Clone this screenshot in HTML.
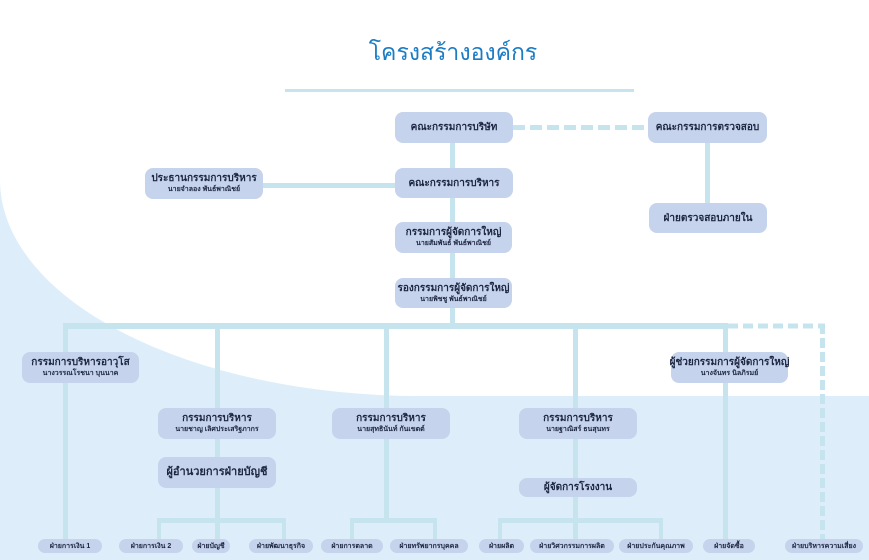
<!DOCTYPE html>
<html><head><meta charset="utf-8">
<style>
html,body{margin:0;padding:0;}
body{width:869px;height:560px;position:relative;overflow:hidden;background:#fff;font-family:"Liberation Sans","Noto Sans CJK SC",sans-serif;}
svg.bg{position:absolute;left:0;top:0;}
.t{position:absolute;left:0;top:35px;width:906px;text-align:center;font-size:23px;color:#1b7cc4;line-height:34px;}
.b{position:absolute;background:#c5d3ec;border-radius:8px;display:flex;flex-direction:column;align-items:center;justify-content:center;color:#1c2541;text-align:center;box-sizing:border-box;white-space:nowrap;}
.b .m{font-size:10px;font-weight:bold;line-height:13px;}
.b .s{font-size:7px;font-weight:bold;line-height:10px;}
.p{position:absolute;top:539px;height:14px;background:#c5d3ec;border-radius:7px;font-size:7px;font-weight:bold;color:#1c2541;display:flex;align-items:center;justify-content:center;white-space:nowrap;}
</style></head><body>
<svg class="bg" width="869" height="560" viewBox="0 0 869 560">
<path d="M0,180 A420,216 0 0 0 420,396 L869,396 L869,560 L0,560 Z" fill="#ddeefa"/>
<g fill="#c6e4ee">
<rect x="285" y="89" width="349" height="3"/>
<rect x="450" y="143" width="5" height="185"/>
<rect x="263" y="183" width="132" height="5"/>
<rect x="705" y="143" width="5" height="60"/>
<rect x="63" y="323" width="664" height="6"/>
<rect x="63" y="323" width="5" height="217"/>
<rect x="215" y="323" width="5" height="200"/>
<rect x="384" y="323" width="5" height="200"/>
<rect x="573" y="323" width="5" height="200"/>
<rect x="723" y="323" width="5" height="217"/>
<rect x="157" y="518" width="129" height="5"/>
<rect x="350" y="518" width="87" height="5"/>
<rect x="498" y="518" width="165" height="5"/>
<rect x="157" y="518" width="4" height="22"/>
<rect x="215" y="518" width="5" height="22"/>
<rect x="282" y="518" width="4" height="22"/>
<rect x="350" y="518" width="4" height="22"/>
<rect x="433" y="518" width="4" height="22"/>
<rect x="498" y="518" width="4" height="22"/>
<rect x="573" y="518" width="5" height="22"/>
<rect x="659" y="518" width="4" height="22"/>
</g>
<g stroke="#c6e4ee" fill="none">
<line x1="513" y1="127.5" x2="648" y2="127.5" stroke-width="5" stroke-dasharray="12 5"/>
<line x1="728" y1="326" x2="825" y2="326" stroke-width="5" stroke-dasharray="10 5"/>
<line x1="822.5" y1="324" x2="822.5" y2="540" stroke-width="5" stroke-dasharray="10 4"/>
</g>
</svg>

<div class="t">โครงสร้างองค์กร</div>

<div class="b" style="left:395px;top:112px;width:118px;height:31px;"><div class="m">คณะกรรมการบริษัท</div></div>
<div class="b" style="left:648px;top:112px;width:119px;height:31px;"><div class="m">คณะกรรมการตรวจสอบ</div></div>
<div class="b" style="left:649px;top:203px;width:118px;height:30px;"><div class="m">ฝ่ายตรวจสอบภายใน</div></div>
<div class="b" style="left:395px;top:168px;width:118px;height:30px;"><div class="m">คณะกรรมการบริหาร</div></div>
<div class="b" style="left:145px;top:168px;width:118px;height:31px;"><div class="m">ประธานกรรมการบริหาร</div><div class="s">นายจำลอง พันธ์พาณิชย์</div></div>
<div class="b" style="left:395px;top:222px;width:117px;height:31px;"><div class="m">กรรมการผู้จัดการใหญ่</div><div class="s">นายสัมพันธ์ พันธ์พาณิชย์</div></div>
<div class="b" style="left:395px;top:278px;width:117px;height:30px;"><div class="m">รองกรรมการผู้จัดการใหญ่</div><div class="s">นายพิชชู พันธ์พาณิชย์</div></div>

<div class="b" style="left:22px;top:352px;width:117px;height:31px;"><div class="m">กรรมการบริหารอาวุโส</div><div class="s">นางวรรณโรชนา บุนนาค</div></div>
<div class="b" style="left:671px;top:352px;width:117px;height:31px;"><div class="m">ผู้ช่วยกรรมการผู้จัดการใหญ่</div><div class="s">นางจันทร นิลภิรมย์</div></div>
<div class="b" style="left:158px;top:408px;width:118px;height:31px;"><div class="m">กรรมการบริหาร</div><div class="s">นายชาญ เลิศประเสริฐภากร</div></div>
<div class="b" style="left:332px;top:408px;width:118px;height:31px;"><div class="m">กรรมการบริหาร</div><div class="s">นายสุทธินันท์ กันเขตต์</div></div>
<div class="b" style="left:519px;top:408px;width:118px;height:31px;"><div class="m">กรรมการบริหาร</div><div class="s">นายฐาณิสร์ ธนสุนทร</div></div>
<div class="b" style="left:158px;top:457px;width:118px;height:31px;"><div class="m" style="font-size:11px;">ผู้อำนวยการฝ่ายบัญชี</div></div>
<div class="b" style="left:519px;top:478px;width:118px;height:19px;"><div class="m">ผู้จัดการโรงงาน</div></div>

<div class="p" style="left:38px;width:64px;">ฝ่ายการเงิน 1</div>
<div class="p" style="left:119px;width:64px;">ฝ่ายการเงิน 2</div>
<div class="p" style="left:192px;width:38px;">ฝ่ายบัญชี</div>
<div class="p" style="left:249px;width:64px;">ฝ่ายพัฒนาธุรกิจ</div>
<div class="p" style="left:321px;width:62px;">ฝ่ายการตลาด</div>
<div class="p" style="left:390px;width:78px;">ฝ่ายทรัพยากรบุคคล</div>
<div class="p" style="left:479px;width:45px;">ฝ่ายผลิต</div>
<div class="p" style="left:530px;width:84px;">ฝ่ายวิศวกรรมการผลิต</div>
<div class="p" style="left:619px;width:74px;">ฝ่ายประกันคุณภาพ</div>
<div class="p" style="left:703px;width:52px;">ฝ่ายจัดซื้อ</div>
<div class="p" style="left:785px;width:78px;">ฝ่ายบริหารความเสี่ยง</div>
</body></html>
